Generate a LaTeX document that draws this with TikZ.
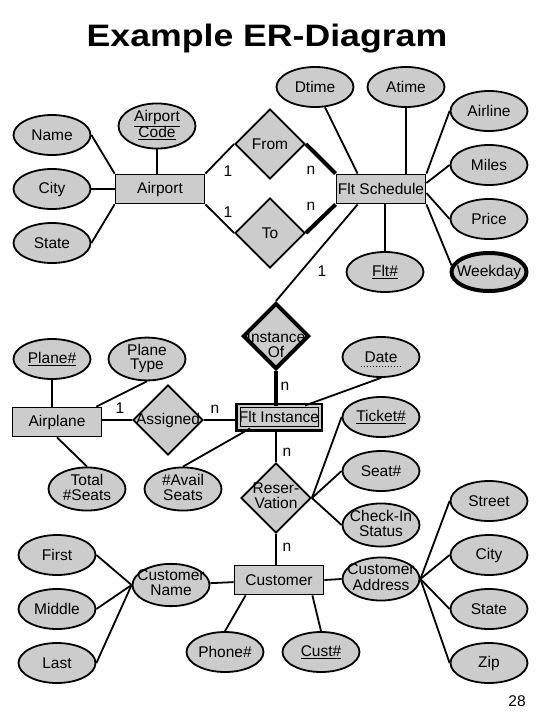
\documentclass[tikz,border=0pt]{standalone}
\usepackage{fontspec}
\setmainfont{Liberation Sans}
\usepackage{graphicx}
\usetikzlibrary{shapes.geometric}
\definecolor{ergray}{RGB}{204,204,204}
\tikzstyle{ent} = [rectangle, draw, fill=ergray, minimum width=89, minimum height=29, inner sep=0]
\tikzstyle{weakent} = [rectangle, draw, fill=ergray, minimum width=81, minimum height=22, inner sep=0, line width=1pt, double=ergray, double distance=2pt, preaction={draw, line width=7pt}]
\tikzstyle{attr} = [ellipse, draw, fill=ergray, minimum width=77, minimum height=40, inner sep=0]
\tikzstyle{mvattr} = [attr, line width=4pt, minimum width=75, minimum height=38]
\tikzstyle{rel} = [diamond, draw, fill=ergray, minimum width=70, minimum height=70, inner sep=0]
\tikzstyle{idrel} = [rel, line width=4pt, minimum width=66, minimum height=66]
\tikzstyle{card} = [inner sep=0]
\tikzstyle{heavy} = [line width=4pt]
\newcommand{\lone}[1]{\makebox[0pt]{#1}}
\newcommand{\ltwo}[2]{\makebox[0pt]{\begin{tabular}{@{}c@{}}#1\\#2\end{tabular}}}

\begin{document}
\begin{tikzpicture}[x=1pt, y=-1pt, line width=1.8pt, font=\fontsize{15.5}{14}\selectfont]
\useasboundingbox (0, 0) rectangle (540, 720);
\node [anchor=base, inner sep=0] (title) at (267, 46) {\bfseries\fontsize{31}{31}\selectfont\scalebox{1.15}[1]{Example ER-Diagram}};

% airport
\node [attr] (name) at (52, 135) {\lone{Name}};
\node [attr] (city) at (52, 189) {\lone{City}};
\node [attr] (state) at (52, 243) {\lone{State}};
\node [attr] (apcode) at (157, 126) {\ltwo{\underline{Airport}}{\underline{Code}}};
\node [ent] (airport) at (160, 189) {Airport};
\node [rel] (from) at (270, 144) {\lone{From}};
\node [rel] (to) at (270, 233) {\lone{To}};

% flight schedule
\node [ent] (fltsched) at (381, 189) {\lone{Flt Schedule}};
\node [attr] (dtime) at (315, 87) {\lone{Dtime}};
\node [attr] (atime) at (406, 87) {\lone{Atime}};
\node [attr] (airline) at (489, 111) {\lone{Airline}};
\node [attr] (miles) at (489, 165) {\lone{Miles}};
\node [attr] (price) at (489, 219) {\lone{Price}};
\node [mvattr] (weekday) at (489, 272) {\lone{Weekday}};
\node [attr] (fltnum) at (385, 272) {\lone{\underline{Flt\#}}};

% flight instance
\node [idrel] (instof) at (276, 336) {\ltwo{\rule{0pt}{32pt}Instance}{Of}};
\node [weakent] (fltinst) at (279, 417) {\lone{Flt Instance}};
\node [attr] (date) at (381, 357) {\lone{Date}};

% airplane
\node [attr] (planenum) at (52, 359) {\lone{\underline{Plane\#}}};
\node [attr] (planetype) at (147, 359) {\ltwo{Plane}{Type}};
\node [ent] (airplane) at (57, 422) {Airplane};
\node [rel] (assigned) at (168, 420) {\lone{Assigned}};
\node [attr] (totseats) at (87, 489) {\ltwo{Total}{\#Seats}};
\node [attr] (avail) at (183, 489) {\ltwo{\#Avail}{Seats}};

% reservation
\node [rel] (reserv) at (276, 498) {\ltwo{Reser-}{Vation}};
\node [attr] (ticket) at (381, 417) {\lone{\underline{Ticket\#}}};
\node [attr] (seat) at (381, 471) {\lone{Seat\#}};
\node [attr] (checkin) at (381, 525) {\ltwo{Check-In}{Status}};

% customer
\node [ent] (customer) at (279, 580) {Customer};
\node [attr] (custaddr) at (381, 579) {\ltwo{Customer}{Address}};
\node [attr] (street) at (489, 501) {\lone{Street}};
\node [attr] (city2) at (489, 555) {\lone{City}};
\node [attr] (state2) at (489, 609) {\lone{State}};
\node [attr] (zip) at (489, 663) {\lone{Zip}};
\node [attr] (custnum) at (321, 652) {\lone{\underline{Cust\#}}};
\node [attr] (phone) at (225, 652) {\lone{Phone\#}};
\node [attr] (custname) at (171, 585) {\ltwo{Customer}{Name}};
\node [attr] (first) at (57, 555) {\lone{First}};
\node [attr] (middle) at (57, 609) {\lone{Middle}};
\node [attr] (last) at (57, 663) {\lone{Last}};

% cardinalities
\node [card] (c1) at (228, 171) {1};
\node [card] (c2) at (228, 212) {1};
\node [card] (c3) at (311, 170) {n};
\node [card] (c4) at (311, 206) {n};
\node [card] (c5) at (322, 271) {1};
\node [card] (c6) at (285, 386) {n};
\node [card] (c7) at (120, 408) {1};
\node [card] (c8) at (215, 409) {n};
\node [card] (c9) at (287, 452) {n};
\node [card] (c10) at (287, 547) {n};
\node [card] (page) at (517, 701) {28};

\draw (name.east) to (airport.north west);
\draw (city) to (airport);
\draw (state.east) to (airport.south west);
\draw (apcode) to (apcode |- airport.north);
\draw (airport.north east) to (from.west);
\draw (airport.south east) to (to.west);
\draw [heavy] (from.east) to (fltsched.north west);
\draw [heavy] (to.east) to (fltsched.south west);
\draw (dtime) to ([xshift=22]fltsched.north west);
\draw (atime) to (atime |- fltsched.north);
\draw (airline.west) to (fltsched.north east);
\draw (miles.west) to ([yshift=6]fltsched.east);
\draw (price.west) to ([yshift=-4]fltsched.east);
\draw (weekday.170) to (fltsched.south east);
\draw (fltnum) to (fltnum |- fltsched.south);
\draw (instof.north) to ([xshift=22]fltsched.south west);
\draw [heavy] (instof.south) to (instof.south |- fltinst.north);
\draw (date.south) to ([xshift=26]fltinst.north);
\draw [dotted, line width=1pt] ([xshift=-20, yshift=-9]date.center) to ([xshift=20, yshift=-9]date.center);
\draw (planenum) to (planenum |- airplane.north);
\draw (planetype.south) to ([xshift=-6]airplane.north east);
\draw (airplane.east |- assigned) to (assigned.west);
\draw (assigned.east) to (assigned.east -| fltinst.west);
\draw (totseats.north) to (airplane.south);
\draw (avail.north) to ([xshift=12]fltinst.south west);
\draw (fltinst.south -| reserv.north) to (reserv.north);
\draw (reserv.east) to (ticket.west);
\draw (reserv.east) to (seat.west);
\draw (reserv.east) to (checkin.west);
\draw (reserv.south) to (reserv.south |- customer.north);
\draw (customer.east) to (custaddr.west);
\draw (custaddr.east) to (street.west);
\draw (custaddr.east) to (city2.west);
\draw (custaddr.east) to (state2.west);
\draw (custaddr.east) to (zip.west);
\draw (custnum.north) to ([xshift=-12]customer.south east);
\draw (phone.north) to ([xshift=12]customer.south west);
\draw (custname) to (customer);
\draw (first.east) to (custname.west);
\draw (middle.east) to (custname.west);
\draw (last.east) to (custname.west);
\end{tikzpicture}
\end{document}
